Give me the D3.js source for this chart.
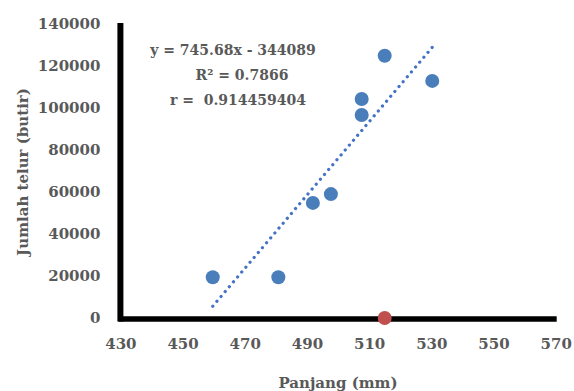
<!DOCTYPE html>
<html><head><meta charset="utf-8">
<script src="https://cdn.jsdelivr.net/npm/d3@7"></script>
<style>body{margin:0;background:#fff}svg{display:block}</style>
</head><body>
<script>
const panjang = [459.7, 480.8, 491.9, 497.7, 507.6, 507.6, 515.0, 530.3];
const telur = [19400, 19400, 54800, 59000, 104300, 96700, 124900, 112900];
const outlierX = [515.0];
const outlierY = [0];
const xTicks = [430, 450, 470, 490, 510, 530, 550, 570];
const yTicks = [0, 20000, 40000, 60000, 80000, 100000, 120000, 140000];
const eqLines = ["y = 745.68x - 344089", "R² = 0.7866", "r =  0.914459404"];

const W = 574, H = 391;
const svg = d3.select("body").append("svg").attr("width", W).attr("height", H);
const x = d3.scaleLinear().domain([430, 570]).range([120.4, 555.7]);
const y = d3.scaleLinear().domain([0, 140000]).range([318, 24]);
const font = "'DejaVu Serif', 'Liberation Serif', serif";
const gray = "#595959";

// axes
const xAxis = svg.append("g").attr("transform", "translate(0,319)")
  .call(d3.axisBottom(x).tickValues(xTicks).tickSize(0).tickPadding(19).tickFormat(d3.format("d")));
xAxis.select(".domain").attr("stroke", "#000").attr("stroke-width", 5.5).attr("d", `M${x(430)-2},0H${x(570)+1}`);
const yAxis = svg.append("g").attr("transform", "translate(120.4,0)")
  .call(d3.axisLeft(y).tickValues(yTicks).tickSize(0).tickPadding(20).tickFormat(d3.format("d")));
yAxis.select(".domain").attr("stroke", "#000").attr("stroke-width", 6).attr("d", `M0,${y(0)+3.5}V${y(140000)-1}`);
svg.selectAll(".tick text").attr("font-family", font).attr("font-weight", "bold")
  .attr("font-size", 15).attr("fill", gray);

// trendline (least squares through blue data)
const mx = d3.mean(panjang), my = d3.mean(telur);
let sxy = 0, sxx = 0;
panjang.forEach((v, i) => { sxy += (v - mx) * (telur[i] - my); sxx += (v - mx) ** 2; });
const slope = sxy / sxx, icpt = my - slope * mx;
const [x0, x1] = d3.extent(panjang);
svg.append("line")
  .attr("x1", x(x0)).attr("y1", y(slope * x0 + icpt))
  .attr("x2", x(x1)).attr("y2", y(slope * x1 + icpt))
  .attr("stroke", "#4472C4").attr("stroke-width", 3.2)
  .attr("stroke-linecap", "round").attr("stroke-dasharray", "0.1 6.3");

// points
svg.selectAll("circle.pt").data(panjang).join("circle").attr("class", "pt")
  .attr("cx", d => x(d)).attr("cy", (d, i) => y(telur[i])).attr("r", 7)
  .attr("fill", "#4A7EBB");
svg.selectAll("circle.out").data(outlierX).join("circle").attr("class", "out")
  .attr("cx", d => x(d)).attr("cy", (d, i) => y(outlierY[i])).attr("r", 7)
  .attr("fill", "#C0504D");

// equation
const eqPos = [[233, 55], [242, 80], [238, 105]];
svg.selectAll("text.eq").data(eqLines).join("text").attr("class", "eq")
  .attr("x", (d, i) => eqPos[i][0]).attr("y", (d, i) => eqPos[i][1])
  .attr("text-anchor", "middle").attr("font-family", font).attr("font-weight", "bold")
  .attr("font-size", 14).attr("fill", gray).attr("xml:space", "preserve").style("white-space", "pre")
  .text(d => d);

// axis titles
svg.append("text").attr("transform", "translate(28,172) rotate(-90)")
  .attr("text-anchor", "middle").attr("font-family", font).attr("font-weight", "bold")
  .attr("font-size", 15).attr("fill", gray).text("Jumlah telur (butir)");
svg.append("text").attr("x", 338).attr("y", 388)
  .attr("text-anchor", "middle").attr("font-family", font).attr("font-weight", "bold")
  .attr("font-size", 15).attr("fill", gray).text("Panjang (mm)");
</script>
</body></html>
